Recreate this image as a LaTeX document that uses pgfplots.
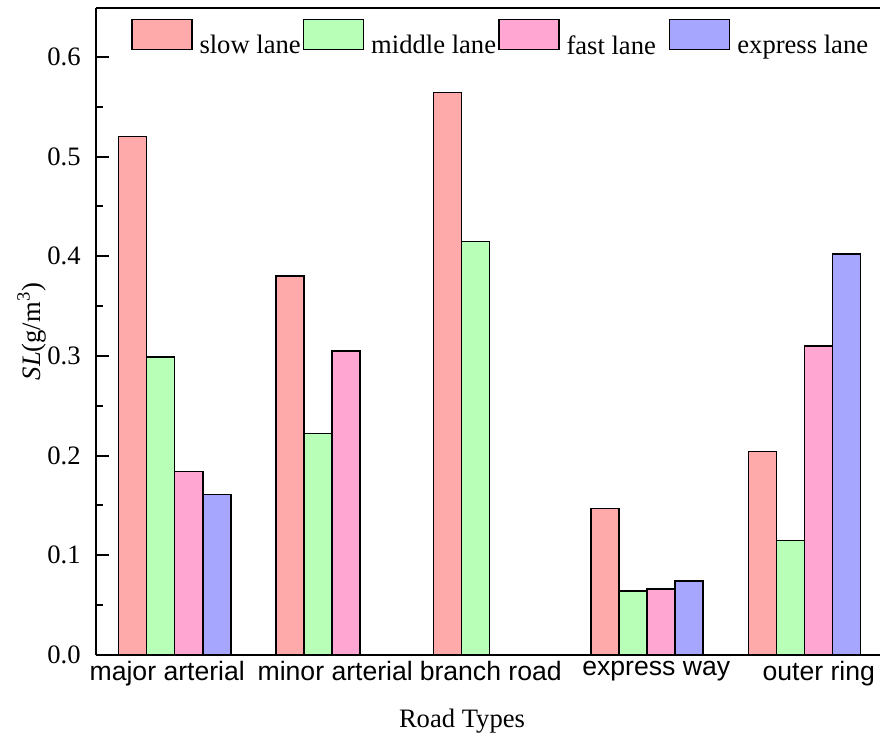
\documentclass[border=0pt]{standalone}
\usepackage{fontspec}
\setmainfont{Liberation Serif}
\newfontfamily\arial{Liberation Sans}
\usepackage{pgfplots}
\pgfplotsset{compat=1.18}
\definecolor{cslow}{RGB}{255,170,170}
\definecolor{cmid}{RGB}{184,255,184}
\definecolor{cfast}{RGB}{255,166,210}
\definecolor{cexp}{RGB}{166,166,255}
\pgfplotsset{
  boxlegend/.style={legend image code/.code={\draw[##1,line width=0.75pt] (0pt,-1.5pt) rectangle (30pt,13.5pt);}}
}
\begin{document}
\fontsize{13.3}{16}\selectfont
\begin{tikzpicture}
\begin{axis}[name=ax, scale only axis, width=392pt, height=323.5pt,
  xmin=-0.5, xmax=4.478, ymin=0, ymax=0.649,
  ybar=0pt, bar width=0.1778,
  axis x line*=box, axis y line*=left,
  axis line style={line width=1pt},
  xtick={0,1,2,3,4},
  xticklabels={{\makebox[0pt][c]{\hspace{-7.5pt}major arterial}},
               {\makebox[0pt][c]{\hspace{3pt}minor arterial}},
               {\makebox[0pt][c]{\hspace{1pt}branch road}},
               {\makebox[0pt][c]{\hspace{9pt}express way}},
               {\makebox[0pt][c]{\hspace{14pt}\raisebox{-3pt}{outer ring}}}},
  x tick style={draw=none},
  ytick={0,0.1,0.2,0.3,0.4,0.5,0.6},
  minor y tick num=1, tick align=inside,
  major tick length=6.5pt, minor tick length=3.5pt,
  y tick style={line width=1pt, black},
  /pgf/number format/assume math mode=true,
  yticklabel style={/pgf/number format/.cd, fixed, fixed zerofill, precision=1, /tikz/.cd,
     inner sep=0pt, font=\fontsize{13.3}{16}\selectfont},
  yticklabel shift=7.5pt,
  xticklabel style={inner sep=0pt, anchor=north, font=\arial\fontsize{13.3}{16}\selectfont},
  xticklabel shift=3pt,
  every axis x label/.style={at={(axis description cs:0.4668,-0.1113)}, anchor=base, inner sep=0pt},
  every axis y label/.style={at={(axis description cs:-0.0714,0.5)}, rotate=90, anchor=base, inner sep=0pt},
  xlabel={Road Types},
  ylabel={\textit{SL}(g/m\textsuperscript{3})},
  label style={font=\fontsize{13.3}{16}\selectfont},
  every axis plot post/.append style={draw=black, line width=0.75pt, boxlegend},
  legend style={at={(axis description cs:0,1)}, anchor=north west, xshift=17.5pt, yshift=-5.5pt,
     draw=none, fill=none, inner sep=0pt, outer sep=0pt, legend columns=4,
     font=\fontsize{13.3}{16}\selectfont,
     nodes={inner sep=0pt},
     /tikz/every odd column/.append style={column sep=3.5pt},
     /tikz/every even column/.append style={column sep=1pt}},
  legend cell align=left,
]
\addplot[fill=cslow] coordinates {(0,0.520) (1,0.380) (2,0.564) (3,0.147) (4,0.204)};
\addplot[fill=cmid] coordinates {(0,0.299) (1,0.222) (2,0.415) (3,0.064) (4,0.115)};
\addplot[fill=cfast] coordinates {(0,0.184) (1,0.305) (3,0.066) (4,0.310)};
\addplot[fill=cexp] coordinates {(0,0.161) (3,0.074) (4,0.402)};
\legend{slow lane, middle lane, fast lane\rule{5.5pt}{0pt}, express lane}
\end{axis}
\pgfresetboundingbox
\path[use as bounding box] ([xshift=-48pt,yshift=-42.5pt]ax.south west) rectangle ([yshift=4pt]ax.north east);
\end{tikzpicture}
\end{document}
